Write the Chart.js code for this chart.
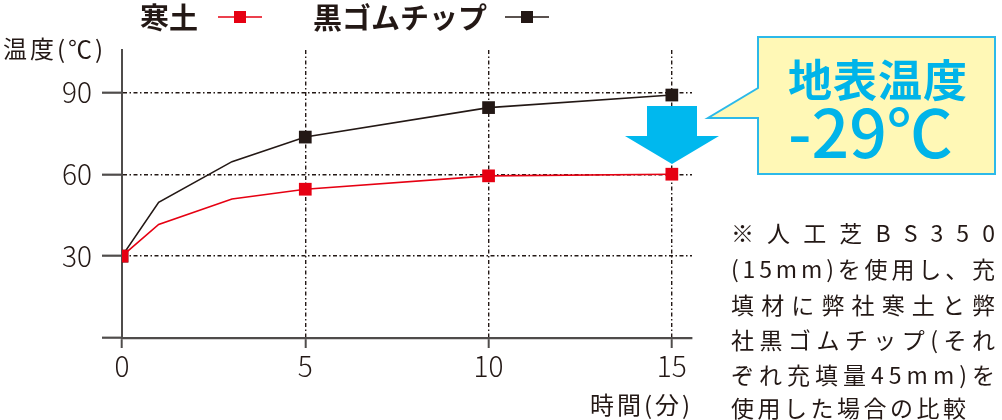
<!DOCTYPE html>
<html lang="ja">
<head>
<meta charset="utf-8">
<title>地表温度の比較</title>
<script src="https://cdn.jsdelivr.net/npm/chart.js@4.4.1/dist/chart.umd.min.js"></script>
<style>
  html, body { margin: 0; padding: 0; background: #fff; }
  #wrap { position: relative; width: 1002px; height: 420px; }
</style>
</head>
<body>
<div id="wrap"><canvas id="chart"></canvas></div>
<script>
// data
const minutes = [0, 1, 3, 5, 10, 15];
const kandoTemps = [30, 41.6, 50.9, 54.5, 59.4, 60];
const rubberChipTemps = [30, 49.7, 64.6, 73.6, 84.4, 89];
const seriesNames = ['寒土', '黒ゴムチップ'];
const xTickValues = [0, 5, 10, 15];
const yTickValues = [0, 30, 60, 90];
const yTitle = '温度(℃)';
const xTitle = '時間(分)';
const calloutLines = ['地表温度', '-29℃'];
const noteLines = [
  '※人工芝BS350',
  '(15mm)を使用し、充',
  '填材に弊社寒土と弊',
  '社黒ゴムチップ(それ',
  'ぞれ充填量45mm)を',
  '使用した場合の比較'
];

const RED = '#e60012';
const INK = '#231815';
const AXIS = '#4f4c4b';
const CYAN = '#00b4e9';
const JP = "'Noto Sans CJK JP', 'Noto Sans', sans-serif";
const dotDash = [4, 2.5, 1.5, 2.5];

function toPoints(ys) {
  return minutes.map((m, i) => ({ x: m, y: ys[i] }));
}

// squares only on the 5-minute readings
function markerSize(ctx) {
  return ctx.raw && ctx.raw.x % 5 === 0 ? 9 : 0;
}

// draw a string char by char with extra space after each char
function spaced(c, text, x, y, gap) {
  for (const ch of text) {
    c.fillText(ch, x, y);
    x += c.measureText(ch).width + gap;
  }
}

const extras = {
  id: 'extras',
  afterDraw(chart) {
    const c = chart.ctx;
    c.save();

    // legend: name then line with marker
    c.textBaseline = 'middle';
    c.textAlign = 'left';
    c.font = `bold 29px ${JP}`;
    const legend = [
      { name: seriesNames[0], tx: 140, lx: 218, color: RED },
      { name: seriesNames[1], tx: 313, lx: 505, color: INK }
    ];
    legend.forEach(l => {
      c.fillStyle = INK;
      c.fillText(l.name, l.tx, 18);
      c.strokeStyle = l.color;
      c.lineWidth = 1.5;
      c.beginPath();
      c.moveTo(l.lx, 17);
      c.lineTo(l.lx + 44, 17);
      c.stroke();
      c.fillStyle = l.color;
      c.fillRect(l.lx + 16, 11, 12, 12);
    });

    // axis titles
    c.fillStyle = INK;
    c.font = `400 24px ${JP}`;
    spaced(c, yTitle, 3, 49, 3);
    spaced(c, xTitle, 590, 405, 3);

    // arrow down to the red point
    c.fillStyle = '#00b8ee';
    c.beginPath();
    c.moveTo(647, 106);
    c.lineTo(697, 106);
    c.lineTo(697, 136);
    c.lineTo(719, 136);
    c.lineTo(672, 164);
    c.lineTo(625, 136);
    c.lineTo(647, 136);
    c.closePath();
    c.fill();

    // speech box
    c.beginPath();
    c.moveTo(758, 37);
    c.lineTo(995, 37);
    c.lineTo(995, 174);
    c.lineTo(758, 174);
    c.lineTo(758, 118);
    c.lineTo(708, 118);
    c.lineTo(758, 88);
    c.closePath();
    c.fillStyle = '#fff8b6';
    c.fill();
    c.strokeStyle = '#2cb9e9';
    c.lineWidth = 2;
    c.stroke();

    c.fillStyle = CYAN;
    c.textBaseline = 'alphabetic';
    c.font = `bold 44px ${JP}`;
    spaced(c, calloutLines[0], 788, 97, 1);
    c.font = `500 66px ${JP}`;
    c.fillText(calloutLines[1], 788, 158);

    // note, spread over the column
    c.fillStyle = INK;
    c.font = `400 23px ${JP}`;
    c.textBaseline = 'middle';
    const left = 731, right = 995;
    const rows = [233, 269, 305, 340, 375, 408];
    noteLines.forEach((line, i) => {
      const chars = [...line];
      const total = chars.reduce((a, ch) => a + c.measureText(ch).width, 0);
      let gap = (right - left - total) / (chars.length - 1);
      if (i === noteLines.length - 1) gap = 3.5;
      spaced(c, line, left, rows[i], gap);
    });

    c.restore();
  }
};

new Chart(document.getElementById('chart'), {
  type: 'line',
  data: {
    datasets: [
      {
        label: seriesNames[0],
        data: toPoints(kandoTemps),
        borderColor: RED,
        backgroundColor: RED,
        borderWidth: 1.6,
        pointStyle: 'rect',
        pointRadius: markerSize,
        pointBorderWidth: 0,
        tension: 0,
        order: 0
      },
      {
        label: seriesNames[1],
        data: toPoints(rubberChipTemps),
        borderColor: INK,
        backgroundColor: INK,
        borderWidth: 1.6,
        pointStyle: 'rect',
        pointRadius: markerSize,
        pointBorderWidth: 0,
        tension: 0,
        order: 1
      }
    ]
  },
  options: {
    responsive: true,
    maintainAspectRatio: false,
    animation: false,
    layout: { padding: { left: 0, right: 310, top: 50, bottom: 0 } },
    plugins: {
      legend: { display: false },
      title: { display: false },
      tooltip: { enabled: false }
    },
    scales: {
      x: {
        type: 'linear',
        min: 0,
        max: 15.55,
        afterBuildTicks: s => { s.ticks = xTickValues.map(v => ({ value: v })); },
        afterFit: s => { s.height = 82; },
        border: { color: AXIS, width: 2.2, dash: dotDash },
        grid: {
          color: ctx => ctx.tick && ctx.tick.value === 0 ? 'rgba(0,0,0,0)' : INK,
          lineWidth: 1.4,
          tickColor: AXIS,
          tickWidth: 2,
          tickLength: 10,
          tickBorderDash: []
        },
        ticks: {
          color: INK,
          padding: 2,
          maxRotation: 0,
          font: { family: JP, size: 28, weight: '300' }
        }
      },
      y: {
        min: 0,
        max: 105.5,
        afterBuildTicks: s => { s.ticks = yTickValues.map(v => ({ value: v })); },
        afterFit: s => { s.width = 122; },
        border: { color: AXIS, width: 2, dash: dotDash },
        grid: {
          color: ctx => ctx.tick && ctx.tick.value === 0 ? 'rgba(0,0,0,0)' : INK,
          lineWidth: 1.4,
          tickColor: AXIS,
          tickWidth: 2.2,
          tickLength: 20,
          tickBorderDash: []
        },
        ticks: {
          color: INK,
          padding: 10,
          callback: v => (v === 0 ? '' : v),
          font: { family: JP, size: 28, weight: '300' }
        }
      }
    }
  },
  plugins: [extras]
});
</script>
</body>
</html>
